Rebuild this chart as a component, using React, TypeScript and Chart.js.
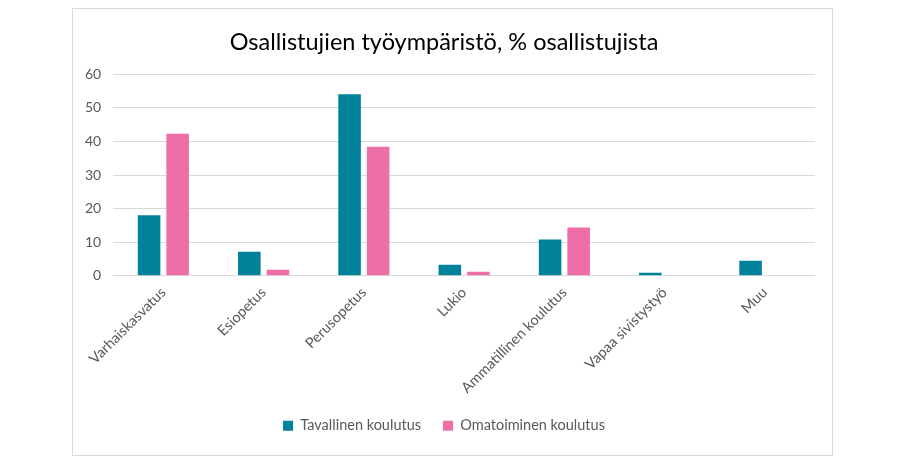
import { useEffect, useRef } from 'react';
import Chart from 'chart.js/auto';
import type { ChartConfiguration } from 'chart.js';
import React from 'react';

const categories = [
  'Varhaiskasvatus',
  'Esiopetus',
  'Perusopetus',
  'Lukio',
  'Ammatillinen koulutus',
  'Vapaa sivistystyö',
  'Muu',
];
const tavallinen = [18.0, 7.2, 54.0, 3.3, 10.8, 0.9, 4.5];
const omatoiminen = [42.3, 1.8, 38.4, 1.2, 14.4, 0, 0];
const seriesNames = ['Tavallinen koulutus', 'Omatoiminen koulutus'];
const titleText = 'Osallistujien työympäristö, % osallistujista';

const FONT = 'Lato, "Open Sans", sans-serif';
const GREY = '#595959';

const App = () => {
  const canvasRef = useRef<HTMLCanvasElement>(null);

  useEffect(() => {
    if (!canvasRef.current) {
      return;
    }

    const config: ChartConfiguration<'bar'> = {
      type: 'bar',
      data: {
        labels: categories,
        datasets: [
          {
            label: seriesNames[0],
            data: tavallinen,
            backgroundColor: '#00829b',
            categoryPercentage: 0.57,
            barPercentage: 0.79,
          },
          {
            label: seriesNames[1],
            data: omatoiminen,
            backgroundColor: '#ee6fa8',
            categoryPercentage: 0.57,
            barPercentage: 0.79,
          },
        ],
      },
      options: {
        animation: false,
        responsive: true,
        maintainAspectRatio: false,
        layout: { padding: { left: 0, right: 17, top: 11, bottom: 12 } },
        plugins: {
          title: {
            display: true,
            text: titleText,
            color: '#000',
            font: { family: FONT, size: 23.5, weight: 'normal' },
            padding: { top: 8, bottom: 18 },
          },
          legend: {
            position: 'bottom',
            labels: {
              color: GREY,
              font: { family: FONT, size: 14.5 },
              boxWidth: 10,
              boxHeight: 10,
              padding: 22,
            },
          },
          tooltip: { enabled: false },
        },
        scales: {
          x: {
            grid: { display: false },
            border: { display: false },
            ticks: {
              color: GREY,
              font: { family: FONT, size: 14.5 },
              minRotation: 45,
              maxRotation: 45,
              autoSkip: false,
              padding: 0,
            },
          },
          y: {
            min: 0,
            max: 60,
            grid: { color: '#d9d9d9', drawTicks: false },
            border: { display: false },
            ticks: {
              stepSize: 10,
              color: GREY,
              font: { family: FONT, size: 14 },
              padding: 12,
            },
          },
        },
      },
    };

    const chart = new Chart(canvasRef.current, config);

    return () => {
      chart.destroy();
    };
  }, []);

  return (
    <div style={{ position: 'absolute', left: 0, top: 0, width: 913, height: 466, background: '#fff' }}>
      <div
        style={{
          position: 'absolute',
          left: 72,
          top: 8,
          width: 759,
          height: 446,
          border: '1px solid #d9d9d9',
        }}
      >
        <canvas ref={canvasRef} />
      </div>
    </div>
  );
};

export default App;
